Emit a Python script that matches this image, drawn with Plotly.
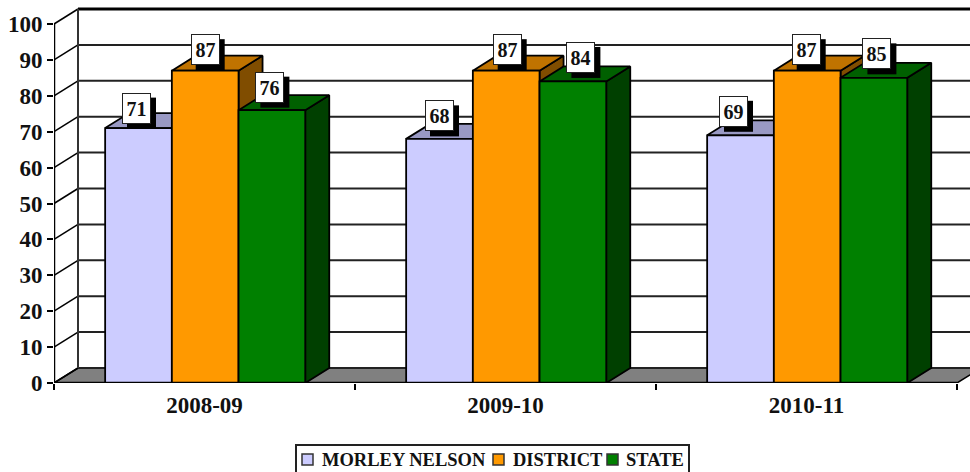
import plotly.graph_objects as go

# Values
years = ['2008-09', '2009-10', '2010-11']
morley_nelson = [71, 68, 69]
district = [87, 87, 87]
state = [76, 84, 85]
y_ticks = [0, 10, 20, 30, 40, 50, 60, 70, 80, 90, 100]

series_names = ['MORLEY NELSON', 'DISTRICT', 'STATE']
series_values = [morley_nelson, district, state]
front_colors = ['#CCCCFF', '#FF9900', '#008000']
top_colors = ['#9999C4', '#C07300', '#006000']
side_colors = ['#666680', '#804D00', '#004000']

# pixel placement of the value labels relative to the bar top, same shape as the series
label_dx = [[-2, 0, -7], [0, 1, -1], [-2, 8, 3]]
label_dy = [[20, 23, 24], [21, 21, 21], [23, 24, 24]]

FONT = 'Liberation Serif'
W, H = 970, 472
LEFT, BOTTOM = 54, 89
PX_PER_X = 301.0     # one category
PX_PER_Y = 3.59      # one percent point
DEPTH_X = 24 / PX_PER_X
DEPTH_Y = 15 / PX_PER_Y
BAR_W = 66.7 / PX_PER_X
BAR_SHIFT = 0.7 / PX_PER_X
X_MAX = (W - LEFT) / PX_PER_X
Y_MAX = (H - BOTTOM) / PX_PER_Y

fig = go.Figure()


def face(xs, ys, fill, line='black', width=1.8):
    fig.add_trace(go.Scatter(x=xs + xs[:1], y=ys + ys[:1], mode='lines', fill='toself',
                             fillcolor=fill, line=dict(color=line, width=width),
                             hoverinfo='skip', showlegend=False))


def stroke(xs, ys, color='#222222', width=2, clip=True):
    fig.add_trace(go.Scatter(x=xs, y=ys, mode='lines', line=dict(color=color, width=width),
                             hoverinfo='skip', showlegend=False, cliponaxis=clip))


def paper_x(px):
    return (px - LEFT) / (W - LEFT)


def paper_y(py):
    return (H - BOTTOM - py) / (H - BOTTOM)


# floor, walls and gridlines
face([0, 3, 3 + DEPTH_X, DEPTH_X], [0, 0, DEPTH_Y, DEPTH_Y], '#808080', width=1.5)
for t in y_ticks:
    top = t == y_ticks[-1]
    stroke([DEPTH_X, X_MAX], [t + DEPTH_Y, t + DEPTH_Y], 'black' if top else '#222222', 3 if top else 2)
    stroke([0, DEPTH_X], [t, t + DEPTH_Y], 'black', 1.5)
stroke([DEPTH_X, DEPTH_X], [DEPTH_Y, 100 + DEPTH_Y], '#333333', 2)

# bars, left to right so that nearer faces paint over
for g in range(len(years)):
    for s, values in enumerate(series_values):
        v = values[g]
        x0 = g + 0.5 + BAR_SHIFT + (s - 1.5) * BAR_W
        x1 = x0 + BAR_W
        face([x1, x1 + DEPTH_X, x1 + DEPTH_X, x1], [0, DEPTH_Y, v + DEPTH_Y, v], side_colors[s])
        face([x0, x1, x1 + DEPTH_X, x0 + DEPTH_X], [v, v, v + DEPTH_Y, v + DEPTH_Y], top_colors[s])
        face([x0, x1, x1, x0], [0, 0, v, v], front_colors[s])

# front axis lines stop at 100 and at the last category
stroke([0, 0], [0, 100], 'black', 2.5, clip=False)
stroke([0, 3], [0, 0], 'black', 2.5, clip=False)

# value labels with their drop shadow
for g in range(len(years)):
    for s, values in enumerate(series_values):
        v = values[g]
        xc = g + 0.5 + BAR_SHIFT + (s - 1) * BAR_W
        dx, dy = label_dx[s][g], label_dy[s][g]
        fig.add_shape(type='rect', xref='x', yref='y', xsizemode='pixel', ysizemode='pixel',
                      xanchor=xc, yanchor=v, x0=dx - 9.5, x1=dx + 19.5, y0=dy - 20.5, y1=dy + 10.5,
                      fillcolor='black', line_width=0)
        fig.add_annotation(x=xc, y=v, text=str(v), showarrow=False, xshift=dx, yshift=dy,
                           width=25, height=27, bgcolor='white', bordercolor='#222222', borderwidth=1,
                           font=dict(family=FONT, size=20, color='#111111', weight='bold'))

# legend box, swatches and names
fig.add_shape(type='rect', xref='paper', yref='paper', x0=paper_x(296), x1=paper_x(689),
              y0=paper_y(482), y1=paper_y(445), fillcolor='white', line=dict(color='#222222', width=2))
legend_swatch_px = [302, 493, 607]
legend_text_px = [320, 511, 624]
for s, name in enumerate(series_names):
    fig.add_shape(type='rect', xref='paper', yref='paper',
                  x0=paper_x(legend_swatch_px[s]), x1=paper_x(legend_swatch_px[s] + 11),
                  y0=paper_y(465), y1=paper_y(454), fillcolor=front_colors[s],
                  line=dict(color='#333333', width=1.5))
    fig.add_annotation(xref='paper', yref='paper', x=paper_x(legend_text_px[s]), y=paper_y(460),
                       xanchor='left', yanchor='middle', text=name, showarrow=False,
                       font=dict(family=FONT, size=18.5, color='#111111', weight='bold'))

fig.update_layout(
    width=W, height=H,
    margin=dict(l=LEFT, r=0, t=0, b=BOTTOM),
    paper_bgcolor='white', plot_bgcolor='white',
    showlegend=False,
    xaxis=dict(range=[0, X_MAX], showgrid=False, zeroline=False, showline=False,
               tickmode='array', tickvals=[0.5, 1.5, 2.5], ticktext=years, ticks='',
               tickfont=dict(family=FONT, size=23, color='#111111', weight='bold'), ticklabelstandoff=6,
               minor=dict(ticks='outside', tickmode='array', tickvals=[0, 1, 2, 3],
                          ticklen=6, tickwidth=2, tickcolor='black', showgrid=False)),
    yaxis=dict(range=[0, Y_MAX], showgrid=False, zeroline=False, showline=False,
               tickmode='array', tickvals=y_ticks, ticks='outside', ticklen=6, tickwidth=2,
               tickcolor='black',
               tickfont=dict(family=FONT, size=23, color='#111111', weight='bold')),
)

# the reference sits flush against the window edge
fig.write_html("out.html", config={'displayModeBar': False},
               post_script="document.body.style.margin = '0';")
